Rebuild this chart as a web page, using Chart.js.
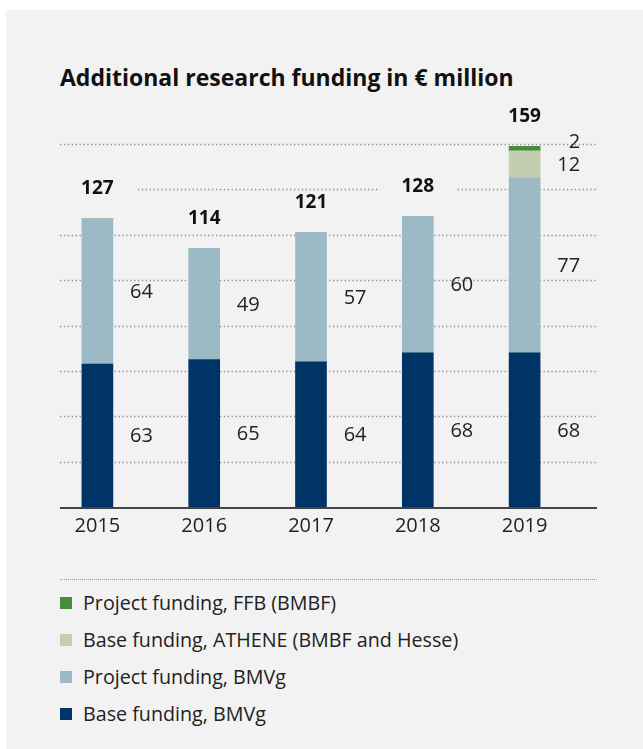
<!DOCTYPE html>
<html>
<head>
<meta charset="utf-8">
<script src="https://cdn.jsdelivr.net/npm/chart.js@4.4.1/dist/chart.umd.min.js"></script>
<style>
  html, body { margin: 0; padding: 0; background: #ffffff; width: 643px; height: 749px; overflow: hidden; }
  #panel { position: absolute; left: 6px; top: 10px; right: 0; bottom: 0; background: #f2f2f2; }
  #title { position: absolute; left: 60px; top: 61px; font: bold 23px "Open Sans", sans-serif; color: #111; white-space: nowrap; }
  #wrap { position: absolute; left: 0; top: 0; width: 643px; height: 560px; }
  #sep { position: absolute; left: 60px; top: 579px; width: 537px; border-top: 1.5px dotted #999; }
  #legend { position: absolute; left: 60px; top: 584px; font: 19.7px "Open Sans", sans-serif; color: #222; }
  .item { height: 37px; display: flex; align-items: center; white-space: nowrap; }
  .sw { width: 12px; height: 12px; margin-right: 11px; display: inline-block; }
</style>
</head>
<body>
<div id="panel"></div>
<div id="title">Additional research funding in € million</div>
<div id="wrap"><canvas id="chart" width="643" height="560"></canvas></div>
<div id="sep"></div>
<div id="legend"></div>
<script>
const years = ["2015", "2016", "2017", "2018", "2019"];
const baseBMVg = [63, 65, 64, 68, 68];
const projectBMVg = [64, 49, 57, 60, 77];
const baseAthene = [0, 0, 0, 0, 12];
const projectFFB = [0, 0, 0, 0, 2];
const gridValues = [20, 40, 60, 80, 100, 120, 140, 160];

const panelColor = "#f2f2f2";
const font = "'Open Sans', sans-serif";

// dotted grid + baseline, drawn from the y scale
const gridPlugin = {
  id: "dottedGrid",
  beforeDatasetsDraw(chart) {
    const ctx = chart.ctx;
    const y = chart.scales.y;
    ctx.save();
    ctx.strokeStyle = "#8c8c8c";
    ctx.lineWidth = 1.3;
    ctx.setLineDash([1.3, 2.6]);
    gridValues.forEach((v) => {
      const py = Math.round(y.getPixelForValue(v)) + 0.5;
      ctx.beginPath();
      ctx.moveTo(60, py);
      ctx.lineTo(597, py);
      ctx.stroke();
    });
    ctx.restore();
  },
  afterDatasetsDraw(chart) {
    const ctx = chart.ctx;
    const y = chart.scales.y;
    ctx.save();
    ctx.strokeStyle = "#444";
    ctx.lineWidth = 2;
    const py = y.getPixelForValue(0) + 1;
    ctx.beginPath();
    ctx.moveTo(60, py);
    ctx.lineTo(597, py);
    ctx.stroke();
    ctx.restore();
  }
};

// segment values right of the bars, totals on top
const labelPlugin = {
  id: "barLabels",
  afterDatasetsDraw(chart) {
    const ctx = chart.ctx;
    const datasets = chart.data.datasets;
    ctx.save();
    ctx.textBaseline = "middle";
    years.forEach((yr, i) => {
      let lastY = null;
      let total = 0;
      let topY = null;
      let cx = 0;
      datasets.forEach((ds, d) => {
        const v = ds.data[i];
        const bar = chart.getDatasetMeta(d).data[i];
        cx = bar.x;
        if (!v) return;
        total += v;
        topY = bar.y;
        let ly = (bar.y + bar.base) / 2;
        if (lastY !== null && lastY - ly < 23) ly = lastY - 23;
        lastY = ly;
        ctx.font = "20px " + font;
        ctx.fillStyle = "#222";
        ctx.textAlign = "right";
        ctx.fillText(String(v), bar.x + bar.width / 2 + 40, ly + 1);
      });
      ctx.font = "bold 19px " + font;
      const ty = topY - 30;
      const w = ctx.measureText(String(total)).width;
      ctx.fillStyle = panelColor;
      ctx.fillRect(cx - w / 2 - 22, ty - 11, w + 44, 22);
      ctx.fillStyle = "#111";
      ctx.textAlign = "center";
      ctx.fillText(String(total), cx, ty);
    });
    ctx.restore();
  }
};

const chart = new Chart(document.getElementById("chart"), {
  type: "bar",
  data: {
    labels: years,
    datasets: [
      { label: "Base funding, BMVg", data: baseBMVg, backgroundColor: "#003366" },
      { label: "Project funding, BMVg", data: projectBMVg, backgroundColor: "#9bbac5" },
      { label: "Base funding, ATHENE (BMBF and Hesse)", data: baseAthene, backgroundColor: "#c2ceaf" },
      { label: "Project funding, FFB (BMBF)", data: projectFFB, backgroundColor: "#4a8a3c" }
    ]
  },
  options: {
    responsive: false,
    animation: false,
    layout: { padding: { left: 44, right: 65, top: 144, bottom: 15 } },
    datasets: { bar: { barThickness: 31, borderWidth: 0 } },
    plugins: {
      legend: { display: false },
      tooltip: { enabled: false }
    },
    scales: {
      x: {
        stacked: true,
        grid: { display: false, drawTicks: false },
        border: { display: false },
        ticks: { color: "#222", font: { family: font, size: 20, lineHeight: 1.2 }, padding: 7 }
      },
      y: {
        stacked: true,
        display: false,
        min: 0,
        max: 160
      }
    }
  },
  plugins: [gridPlugin, labelPlugin]
});

// legend, top entry = top of the stack
const legend = document.getElementById("legend");
chart.data.datasets.slice().reverse().forEach((ds) => {
  const row = document.createElement("div");
  row.className = "item";
  row.innerHTML = '<span class="sw" style="background:' + ds.backgroundColor + '"></span>' + ds.label;
  legend.appendChild(row);
});
</script>
</body>
</html>
